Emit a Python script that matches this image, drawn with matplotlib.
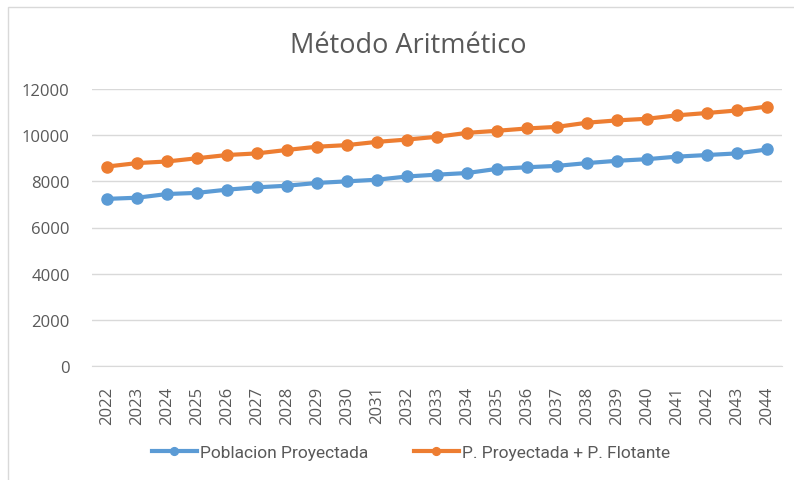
import matplotlib
matplotlib.use('Agg')
import matplotlib.pyplot as plt
from matplotlib.patches import Rectangle

# values
years = [str(y) for y in range(2022, 2045)]
poblacion = [7240, 7290, 7450, 7500, 7640, 7740, 7810, 7930, 8000, 8070, 8210, 8290,
             8360, 8540, 8610, 8670, 8790, 8890, 8960, 9070, 9140, 9210, 9380]
poblacion_flotante = [8640, 8790, 8860, 9000, 9140, 9210, 9360, 9500, 9570, 9710, 9810, 9930,
                      10100, 10190, 10290, 10360, 10540, 10640, 10710, 10860, 10960, 11070, 11240]
y_ticks = [0, 2000, 4000, 6000, 8000, 10000, 12000]

BLUE = '#5B9BD5'
ORANGE = '#ED7D31'
TXT = '#595959'
FONT = ['Open Sans', 'DejaVu Sans']

fig = plt.figure(figsize=(7.94, 4.81), dpi=100)
fig.patches.append(Rectangle((8 / 794, -0.1), 1.2, 1 - 8 / 481 + 0.1, transform=fig.transFigure,
                             fill=False, edgecolor='#D9D9D9', linewidth=1))
ax = fig.add_axes([92 / 794, 1 - 367 / 481, 690 / 794, 277 / 481])

x = range(len(years))
ax.plot(x, poblacion, color=BLUE, lw=3, marker='o', ms=8, label='Poblacion Proyectada')
ax.plot(x, poblacion_flotante, color=ORANGE, lw=3, marker='o', ms=8, label='P. Proyectada + P. Flotante')

ax.set_xlim(-0.5, len(years) - 0.5)
ax.set_ylim(0, 12000)
ax.set_yticks(y_ticks)
ax.set_xticks(list(x))
ax.set_xticklabels(years, rotation=90)
ax.grid(axis='y', color='#D9D9D9', lw=1)
ax.set_axisbelow(True)
for s in ['top', 'right', 'left']:
    ax.spines[s].set_visible(False)
ax.spines['bottom'].set_color('#D9D9D9')
ax.tick_params(axis='both', length=0, colors=TXT, labelsize=12)
ax.tick_params(axis='y', pad=16)
ax.tick_params(axis='x', pad=14)
for lbl in ax.get_xticklabels() + ax.get_yticklabels():
    lbl.set_family(FONT)

fig.text(408 / 794, 1 - 46 / 481, 'Método Aritmético', ha='center', va='center',
         fontsize=19.5, color=TXT, family=FONT)

leg = fig.legend(loc='center', bbox_to_anchor=(411 / 794, 1 - 453 / 481), ncol=2, frameon=False,
                 prop={'family': ['Liberation Sans Narrow', 'Roboto', 'DejaVu Sans'], 'size': 12.5},
                 handlelength=2.6, columnspacing=2.6, handletextpad=0.2, markerscale=0.7)
for t in leg.get_texts():
    t.set_color(TXT)

fig.savefig('out.png', dpi=100)
